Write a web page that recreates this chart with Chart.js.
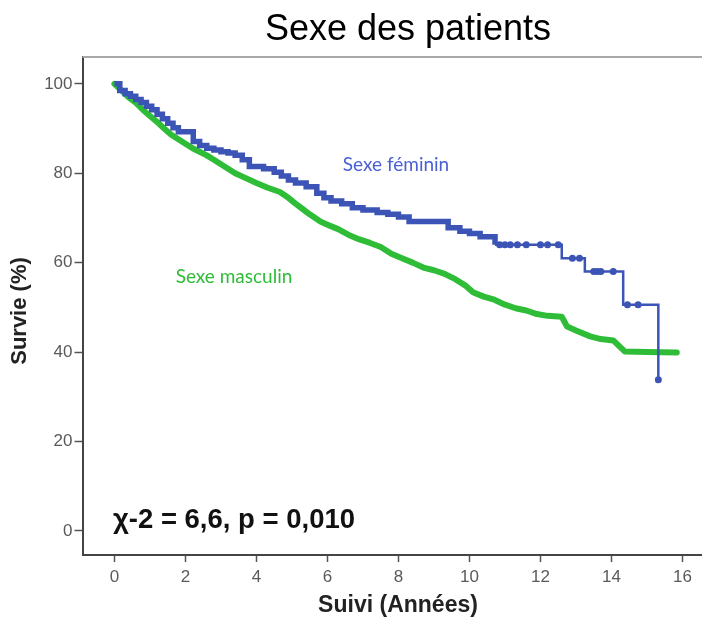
<!DOCTYPE html>
<html>
<head>
<meta charset="utf-8">
<script src="https://cdn.jsdelivr.net/npm/chart.js@4.4.1/dist/chart.umd.min.js"></script>
<style>
  body { margin: 0; background: #fff; }
  canvas { display: block; }
</style>
</head>
<body>
<canvas id="chart" width="702" height="619"></canvas>
<script>
// textes
const titre = "Sexe des patients";
const labelY = "Survie (%)";
const labelX = "Suivi (Années)";
const labelFeminin = "Sexe féminin";
const labelMasculin = "Sexe masculin";
const texteTest = "χ-2 = 6,6, p = 0,010";

// graduations
const xTicks = [0, 2, 4, 6, 8, 10, 12, 14, 16];
const yTicks = [0, 20, 40, 60, 80, 100];

// Sexe féminin (courbe bleue, en marches)
const tempsFeminin = [0, 0.15, 0.3, 0.45, 0.6, 0.75, 0.9, 1.05, 1.2, 1.35, 1.5, 1.65, 1.8, 2.22, 2.4, 2.6, 2.8, 3.0, 3.2, 3.4, 3.6, 3.8, 4.2, 4.5, 4.7, 4.9, 5.1, 5.4, 5.7, 5.9, 6.1, 6.4, 6.7, 7.0, 7.4, 7.7, 8.0, 8.3, 9.4, 9.73, 10.0, 10.3, 10.72, 12.6, 13.25, 14.33, 15.32];
const survieFeminin = [100, 98.5, 97.8, 97.2, 96.5, 95.8, 95.0, 94.2, 93.2, 92.2, 91.2, 90.2, 89.3, 87.1, 86.2, 85.6, 85.2, 84.8, 84.5, 84.0, 83.0, 81.5, 81.0, 80.2, 79.4, 78.5, 77.8, 77.0, 75.5, 74.5, 73.8, 73.2, 72.3, 71.8, 71.2, 70.8, 70.2, 69.2, 67.8, 67.0, 66.5, 65.8, 64.0, 61.0, 58.0, 50.6, 33.8];

// censures visibles sur la fin de la courbe bleue
const tempsCensureFeminin = [10.85, 11.0, 11.15, 11.35, 11.6, 12.0, 12.2, 12.5, 12.9, 13.1, 13.5, 13.6, 13.7, 14.05, 14.45, 14.75, 15.32];
const survieCensureFeminin = [64.0, 64.0, 64.0, 64.0, 64.0, 64.0, 64.0, 64.0, 61.0, 61.0, 58.0, 58.0, 58.0, 58.0, 50.6, 50.6, 33.8];

// Sexe masculin (courbe verte)
const tempsMasculin = [0, 0.2, 0.4, 0.6, 0.8, 1.0, 1.2, 1.4, 1.6, 1.8, 2.0, 2.2, 2.4, 2.6, 2.8, 3.0, 3.2, 3.4, 3.7, 4.0, 4.3, 4.66, 4.9, 5.1, 5.3, 5.5, 5.8, 6.0, 6.3, 6.6, 6.9, 7.2, 7.5, 7.8, 8.1, 8.4, 8.7, 9.0, 9.3, 9.6, 9.9, 10.1, 10.4, 10.7, 11.0, 11.3, 11.6, 11.9, 12.2, 12.6, 12.75, 13.0, 13.4, 13.7, 14.05, 14.38, 15.0, 15.84];
const survieMasculin = [100, 98.5, 97.0, 95.8, 94.2, 92.8, 91.5, 90.0, 88.6, 87.6, 86.6, 85.6, 84.8, 84.0, 83.0, 82.0, 81.0, 80.0, 78.9, 77.8, 76.8, 75.8, 74.5, 73.2, 72.0, 70.8, 69.2, 68.5, 67.5, 66.2, 65.2, 64.4, 63.5, 62.0, 61.0, 60.0, 58.9, 58.3, 57.5, 56.3, 54.8, 53.4, 52.4, 51.7, 50.6, 49.8, 49.3, 48.5, 48.1, 47.9, 45.7, 44.8, 43.5, 42.9, 42.6, 40.1, 40.0, 39.9];

const bleu = '#3b54b6';
const vert = '#2fbd38';
const police = '"Liberation Sans", Arial, sans-serif';

function points(xs, ys) {
  return xs.map((x, i) => ({ x: x, y: ys[i] }));
}

const textes = {
  id: 'textes',
  afterDraw(chart) {
    const ctx = chart.ctx;
    const area = chart.chartArea;
    ctx.save();
    // ligne du cadre en haut
    ctx.strokeStyle = '#a8a8a8';
    ctx.lineWidth = 2;
    ctx.beginPath();
    ctx.moveTo(area.left, area.top);
    ctx.lineTo(chart.width, area.top);
    ctx.stroke();

    ctx.textAlign = 'center';
    ctx.textBaseline = 'middle';
    ctx.fillStyle = '#000';
    ctx.font = '36px ' + police;
    ctx.fillText(titre, 408, 30);

    ctx.font = 'bold 23px ' + police;
    ctx.fillStyle = '#222';
    ctx.fillText(labelX, 398, 606);
    ctx.save();
    ctx.translate(20, 311);
    ctx.rotate(-Math.PI / 2);
    ctx.font = 'bold 22px ' + police;
    ctx.fillText(labelY, 0, 0);
    ctx.restore();

    ctx.font = '19px Lato, ' + police;
    ctx.fillStyle = '#4a5fd6';
    ctx.fillText(labelFeminin, 396, 165);
    ctx.fillStyle = vert;
    ctx.fillText(labelMasculin, 234, 277);

    ctx.font = 'bold 27.5px ' + police;
    ctx.fillStyle = '#111';
    ctx.fillText(texteTest, 234, 520);
    ctx.restore();
  }
};

const ctx = document.getElementById('chart');
new Chart(ctx, {
  type: 'line',
  data: {
    datasets: [
      {
        label: labelFeminin,
        data: points(tempsFeminin, survieFeminin),
        borderColor: bleu,
        borderWidth: 2.5,
        stepped: true,
        pointRadius: 0,
        fill: false,
        segment: {
          borderWidth: c => c.p0.parsed.x < 10.7 ? 5.5 : 2.5
        }
      },
      {
        label: 'censures',
        data: points(tempsCensureFeminin, survieCensureFeminin),
        showLine: false,
        pointRadius: 3.5,
        pointBackgroundColor: bleu,
        pointBorderWidth: 0
      },
      {
        label: labelMasculin,
        data: points(tempsMasculin, survieMasculin),
        borderColor: vert,
        borderWidth: 6,
        borderJoinStyle: 'round',
        borderCapStyle: 'round',
        pointRadius: 0,
        fill: false
      }
    ]
  },
  options: {
    responsive: false,
    devicePixelRatio: 1,
    animation: false,
    events: [],
    layout: { autoPadding: false, padding: { top: 57, left: 0, right: 0, bottom: 0 } },
    plugins: {
      legend: { display: false },
      tooltip: { enabled: false },
      title: { display: false }
    },
    scales: {
      x: {
        type: 'linear',
        min: -0.9,
        max: 16.55,
        afterFit: s => { s.height = 64; s.paddingLeft = 0; s.paddingRight = 0; },
        afterBuildTicks: s => { s.ticks = xTicks.map(v => ({ value: v })); },
        ticks: { color: '#5a5a5a', font: { family: police, size: 17 }, padding: 5 },
        grid: { drawOnChartArea: false, tickLength: 7, tickColor: '#555', tickWidth: 1.5 },
        border: { color: '#444', width: 2 }
      },
      y: {
        type: 'linear',
        min: -5.4,
        max: 106,
        afterFit: s => { s.width = 82.5; s.paddingTop = 0; s.paddingBottom = 0; },
        afterBuildTicks: s => { s.ticks = yTicks.map(v => ({ value: v })); },
        ticks: { color: '#5a5a5a', font: { family: police, size: 17 }, padding: 2 },
        grid: { drawOnChartArea: false, tickLength: 8, tickColor: '#555', tickWidth: 1.5 },
        border: { color: '#444', width: 2 }
      }
    }
  },
  plugins: [textes]
});
</script>
</body>
</html>
